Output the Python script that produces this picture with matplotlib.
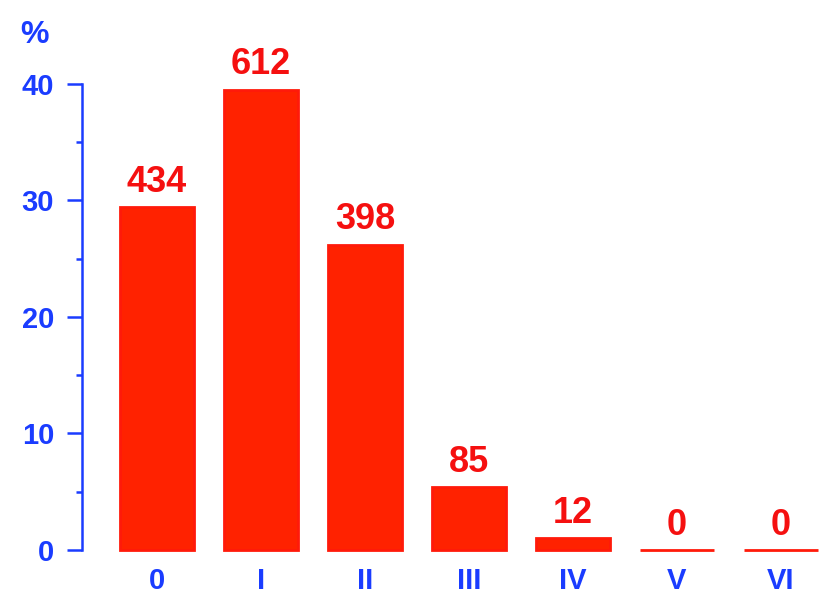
import matplotlib
matplotlib.use('Agg')
import matplotlib.pyplot as plt
from matplotlib.ticker import MultipleLocator

plt.rcParams['font.family'] = ['Liberation Sans', 'DejaVu Sans']

# данные с картинки
stages = ['0', 'I', 'II', 'III', 'IV', 'V', 'VI']
percent = [29.4, 39.5, 26.2, 5.4, 1.0, 0, 0]
counts = [434, 612, 398, 85, 12, 0, 0]

blue = '#1a3cff'
red_bar = '#ff2200'
red_txt = '#f51010'

fig = plt.figure(figsize=(8.4, 6.1), dpi=100)
ax = fig.add_axes([0.0976, 0.0984, 0.890, 0.764])

x = range(len(stages))
bars = ax.bar(x, percent, width=0.71, color=red_bar, edgecolor='#ff1a0a',
              linewidth=2, clip_on=False)

for b, n in zip(bars, counts):
    ax.annotate(str(n), (b.get_x() + b.get_width() / 2, b.get_height()),
                xytext=(0, 11), textcoords='offset points', ha='center', va='baseline',
                fontsize=26, fontweight='bold', color=red_txt, clip_on=False)

ax.set_xlim(-0.721, 6.471)
ax.set_ylim(0, 40)
ax.set_xticks(list(x))
ax.set_xticklabels(stages)
ax.yaxis.set_major_locator(MultipleLocator(10))
ax.yaxis.set_minor_locator(MultipleLocator(5))

for s in ['top', 'right', 'bottom']:
    ax.spines[s].set_visible(False)
ax.spines['left'].set_color(blue)
ax.spines['left'].set_linewidth(1.8)
ax.spines['left'].set_bounds(0, 40)

ax.tick_params(axis='y', which='major', length=11, width=1.8, color=blue,
               labelcolor=blue, labelsize=21, pad=9)
ax.tick_params(axis='y', which='minor', length=4.5, width=1.8, color=blue)
ax.tick_params(axis='x', length=0, labelcolor=blue, labelsize=21, pad=12)
for lbl in ax.get_xticklabels() + ax.get_yticklabels():
    lbl.set_fontweight('bold')

fig.text(0.041, 0.943, '%', ha='center', va='center', fontsize=23,
         fontweight='bold', color=blue)

fig.savefig('out.png', dpi=100)
